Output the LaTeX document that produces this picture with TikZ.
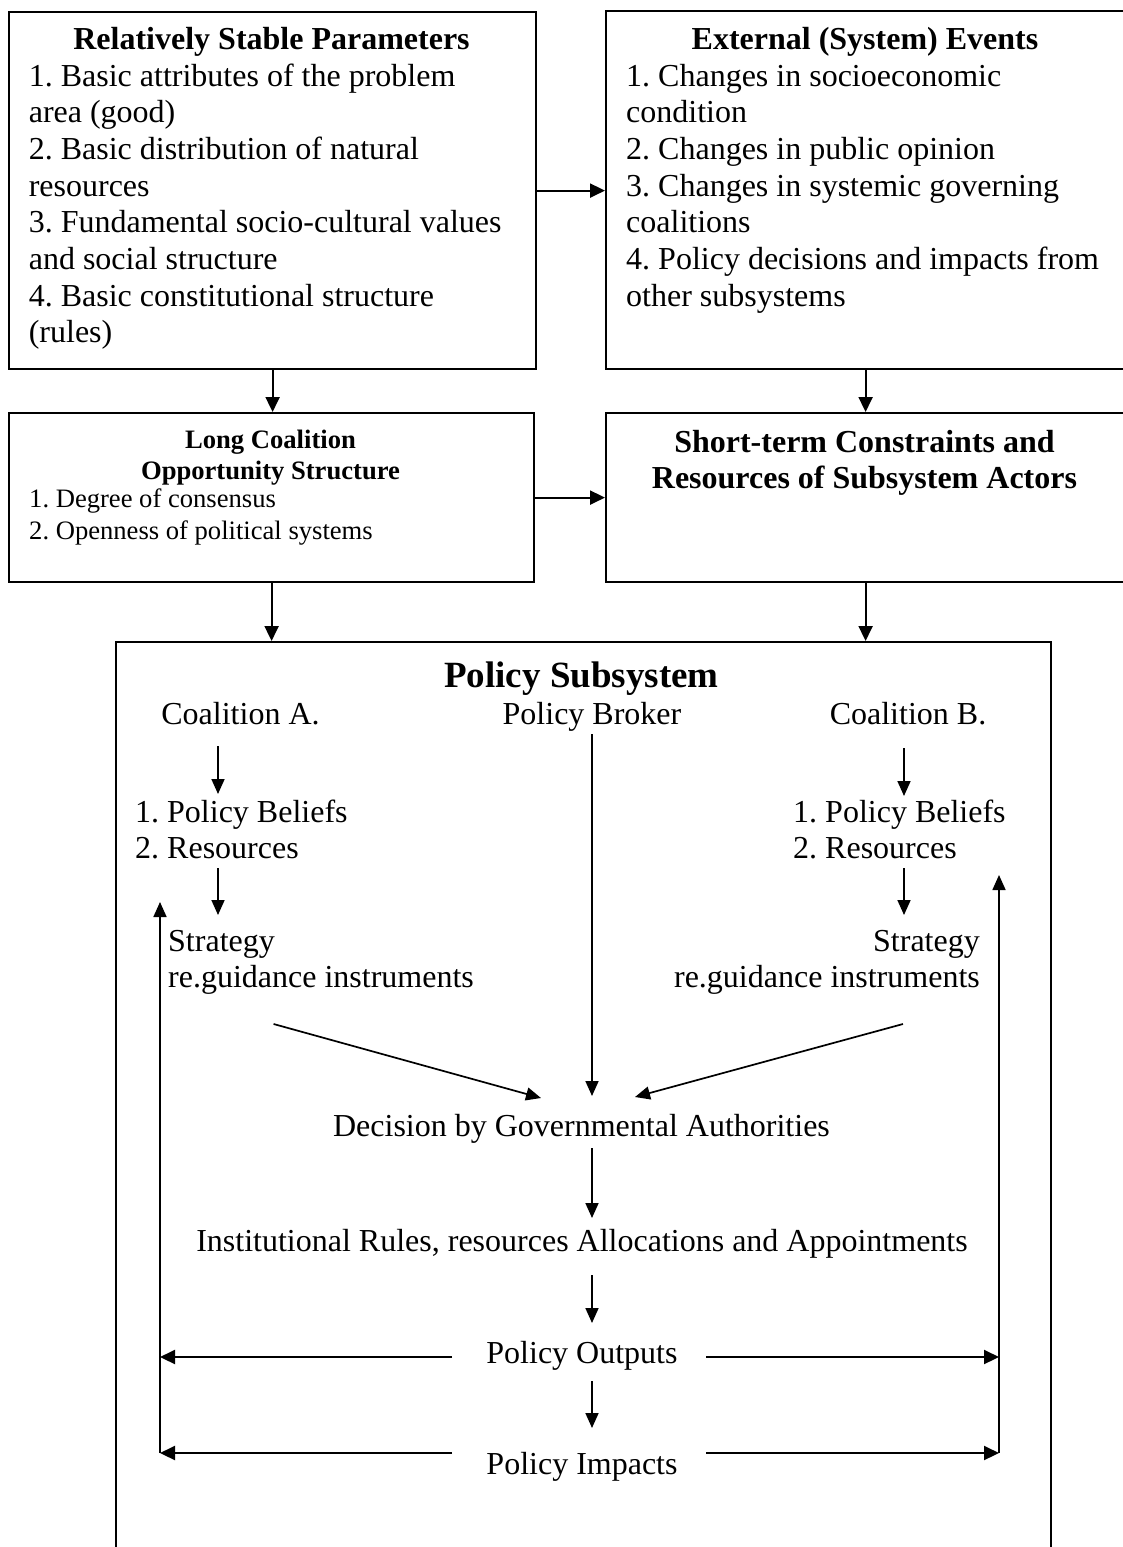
\documentclass[tikz,border=0pt]{standalone}
\usepackage{fontspec}
\setmainfont{Liberation Serif}
\usetikzlibrary{arrows.meta}
\frenchspacing

% stacked lines with the first baseline as the box baseline
\newcommand\rowsL[1]{\begin{tabular}[t]{@{}l@{}}#1\end{tabular}}
\newcommand\rowsR[1]{\begin{tabular}[t]{@{}r@{}}#1\end{tabular}}
\newcommand\rowsC[1]{\begin{tabular}[t]{@{}c@{}}#1\end{tabular}}

\tikzset{
  x=1pt, y=1pt,
  frame/.style={draw, line width=2.2pt, inner sep=0pt, anchor=north west},
  txt/.style={inner sep=0pt, font=\fontsize{32}{36.7}\selectfont},
  head/.style={inner sep=0pt, font=\fontsize{32}{36.7}\selectfont\bfseries},
  smalltxt/.style={inner sep=0pt, font=\fontsize{26.6}{32}\selectfont},
  smallhead/.style={inner sep=0pt, font=\fontsize{26.6}{31}\selectfont\bfseries},
  bighead/.style={inner sep=0pt, font=\fontsize{37}{42}\selectfont\bfseries},
  arr/.style={line width=2.1pt, -{Triangle[length=15pt,width=14pt]}},
  thinarr/.style={line width=1.7pt, -{Triangle[length=15pt,width=13pt]}},
}

\begin{document}
\begin{tikzpicture}
\useasboundingbox (0,0) rectangle (1123,-1547);
\clip (0,0) rectangle (1123,-1547);

% ---------- outer boxes ----------
\node[frame, minimum width=527pt, minimum height=357pt] (stable) at (8,-11) {};
\node[frame, minimum width=519pt, minimum height=358pt] (events) at (605,-10) {};
\node[frame, minimum width=525pt, minimum height=169pt] (longc)  at (8,-412) {};
\node[frame, minimum width=519pt, minimum height=169pt] (shortc) at (605,-412) {};
\node[frame, line width=1.8pt, minimum width=935pt, minimum height=940pt] (subsys) at (115,-641) {};

% ---------- box contents ----------
\node[head, anchor=base] (stableT) at (271.5,-49.5) {Relatively Stable Parameters};
\node[txt, anchor=base west] (stableL) at (28.6,-86) {\rowsL{%
  1. Basic attributes of the problem\\
  area (good)\\
  2. Basic distribution of natural\\
  resources\\
  3. Fundamental socio-cultural values\\
  and social structure\\
  4. Basic constitutional structure\\
  (rules)}};

\node[head, anchor=base] (eventsT) at (865,-49.5) {External (System) Events};
\node[txt, anchor=base west] (eventsL) at (626,-86) {\rowsL{%
  1. Changes in socioeconomic\\
  condition\\
  2. Changes in public opinion\\
  3. Changes in systemic governing\\
  coalitions\\
  4. Policy decisions and impacts from\\
  other subsystems}};

\node[smallhead, anchor=base] (longcT) at (270.5,-448) {\rowsC{Long Coalition\\Opportunity Structure}};
\node[smalltxt, anchor=base west] (longcL) at (29,-507) {\rowsL{%
  1. Degree of consensus\\
  2. Openness of political systems}};

\node[head, anchor=base] (shortcT) at (864.5,-452) {\rowsC{Short-term Constraints and\\Resources of Subsystem Actors}};

% ---------- connectors between boxes ----------
\draw[arr] (stable.east) -- (stable.east -| events.west);
\draw[arr] (stable.south) -- (stable.south |- longc.north);
\draw[arr] (events.south) -- (events.south |- shortc.north);
\draw[arr] (longc.east) -- (longc.east -| shortc.west);
\draw[arr] (longc.south) -- (longc.south |- subsys.north);
\draw[arr] (shortc.south) -- (shortc.south |- subsys.north);

% ---------- policy subsystem ----------
\node[bighead, anchor=base] (pstitle) at (581.5,-687) {Policy Subsystem};
\node[txt, anchor=base] (coalA)  at (240.5,-724) {Coalition A.};
\node[txt, anchor=base] (broker) at (592,-724) {Policy Broker};
\node[txt, anchor=base] (coalB)  at (908,-724) {Coalition B.};

\node[txt, anchor=base west] (beliefsA) at (135,-822) {\rowsL{1. Policy Beliefs\\2. Resources}};
\node[txt, anchor=base west] (beliefsB) at (793,-822) {\rowsL{1. Policy Beliefs\\2. Resources}};
\node[txt, anchor=base west] (stratA) at (168,-951) {\rowsL{Strategy\\re.guidance instruments}};
\node[txt, anchor=base east] (stratB) at (980,-951) {\rowsR{Strategy\\re.guidance instruments}};

\node[txt, anchor=base] (decision) at (581.5,-1136) {Decision by Governmental Authorities};
\node[txt, anchor=base] (inst) at (582,-1251) {Institutional Rules, resources Allocations and Appointments};
\node[txt, anchor=base] (outputs) at (582,-1363) {Policy Outputs};
\node[txt, anchor=base] (impacts) at (582,-1474) {Policy Impacts};

% coalition chains
\draw[thinarr] ([shift={(-22.5,-22)}]coalA.base) -- ([shift={(83,28)}]beliefsA.base west);
\draw[thinarr] ([shift={(83,-46)}]beliefsA.base west) -- ([shift={(50,36)}]stratA.base west);
\draw[thinarr] ([shift={(-4,-24)}]coalB.base) -- ([shift={(111,26)}]beliefsB.base west);
\draw[thinarr] ([shift={(111,-46)}]beliefsB.base west) -- ([shift={(-76,36)}]stratB.base east);

% into the decision
\draw[thinarr] ([shift={(105.6,-73)}]stratA.base west) -- ([shift={(-40.5,38)}]decision.base);
\draw[thinarr] ([shift={(-77,-73)}]stratB.base east) -- ([shift={(53.5,39)}]decision.base);
\draw[thinarr] ([yshift=-10pt]broker.base) -- ([shift={(10.5,40)}]decision.base);

% central chain
\draw[thinarr] ([shift={(10.5,-12)}]decision.base) -- ([shift={(10,33)}]inst.base);
\draw[thinarr] ([shift={(10,-24)}]inst.base) -- ([shift={(10,40)}]outputs.base);
\draw[thinarr] ([shift={(10,-18)}]outputs.base) -- ([shift={(10,46)}]impacts.base);

% feedback loops
\coordinate (lfb) at (160,-1453);
\coordinate (lfbtop) at (160,-902);
\coordinate (rfb) at (999,-1453);
\coordinate (rfbtop) at (999,-875);
\coordinate (outL) at ([shift={(-130,6)}]outputs.base);
\coordinate (outR) at ([shift={(124,6)}]outputs.base);
\coordinate (impL) at ([shift={(-130,21)}]impacts.base);
\coordinate (impR) at ([shift={(124,21)}]impacts.base);

\draw[arr] (outL) -- (outL -| lfb);
\draw[arr] (outR) -- (outR -| rfb);
\draw[arr] (impL) -- (impL -| lfb);
\draw[arr] (impR) -- (impR -| rfb);
\draw[thinarr] (lfb) -- (lfbtop);
\draw[thinarr] (rfb) -- (rfbtop);
\end{tikzpicture}
\end{document}
